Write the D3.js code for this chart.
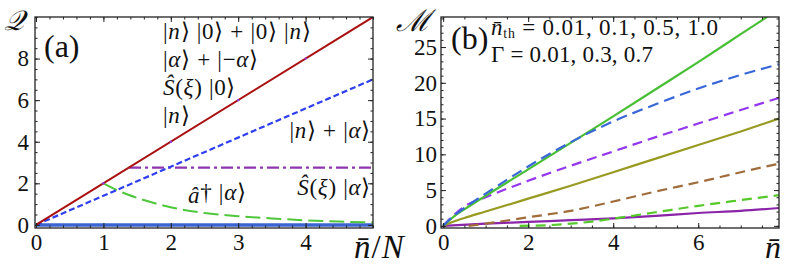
<!DOCTYPE html>
<html>
<head>
<meta charset="utf-8">
<script src="https://cdn.jsdelivr.net/npm/d3@7"></script>
<style>
  body { margin: 0; background: #fff; }
  svg { display: block; }
</style>
</head>
<body>
<svg width="789" height="265"></svg>
<script>
// ---- panel (a) data: Q vs nbar/N ----
var aTicksX = [0, 1, 2, 3, 4];
var aTicksY = [0, 2, 4, 6, 8];
var redLine = [[0, 0], [5, 10]];                 // |n>|0> + |0>|n>, |a>+|-a>, S|0>
var blueDash = [[0, 0], [5, 7.0]];               // |n> + |a>
var purpleDashDot = [[1.38, 2.75], [5, 2.75]];   // S(xi)|a>
var greenLong = [[1, 2], [1.25, 1.6], [1.5, 1.3], [1.75, 1.05], [2, 0.85], [2.5, 0.57],
                 [3, 0.42], [3.5, 0.31], [4, 0.22], [4.5, 0.16], [5, 0.11]]; // a^dag|a>
var baseBlue = [[0, 0], [5, 0]];
var fockPoints = [1, 2, 3, 4];

// ---- panel (b) data: M vs nbar ----
var bTicksX = [0, 2, 4, 6];
var bTicksY = [0, 5, 10, 15, 20, 25];
var greenSolid = [[0, 0], [0.25, 1.3], [0.5, 2.3], [1, 4.2], [2, 7.9], [3, 11.6], [4, 15.3],
                  [5, 19.1], [6, 22.9], [7, 26.8], [7.9, 30.3]];
var blueDashB = [[0, 0], [0.25, 1.4], [0.5, 2.5], [1, 4.5], [2, 8.3], [3, 11.7], [4, 14.6],
                 [5, 17.0], [6, 19.2], [7, 21.1], [7.9, 22.6]];
var violetDash = [[0, 0], [0.25, 1.5], [0.5, 2.7], [1, 4.0], [2, 6.3], [3, 8.4], [4, 10.4],
                  [5, 12.4], [6, 14.3], [7, 16.2], [7.9, 17.9]];
var oliveSolid = [[0, 0], [0.25, 0.6], [0.5, 1.1], [1, 2.0], [2, 3.8], [3, 5.6], [4, 7.5],
                  [5, 9.4], [6, 11.3], [7, 13.2], [7.9, 15.0]];
var brownDash = [[0.6, 0], [1, 0.3], [1.5, 0.75], [2, 1.2], [3, 2.1], [4, 3.4], [5, 4.8],
                 [6, 6.1], [7, 7.5], [7.9, 8.7]];
var limeDash = [[1.8, 0], [2.5, 0.1], [3, 0.3], [3.5, 0.6], [4, 1.0], [5, 1.9], [6, 2.8],
                [7, 3.6], [7.9, 4.3]];
var purpleSolid = [[0, 0], [1, 0.3], [2, 0.55], [3, 0.8], [4, 1.05], [5, 1.4], [6, 1.8],
                   [7, 2.1], [7.9, 2.5]];

var SERIF = "Liberation Serif";

var svg = d3.select("svg");
svg.append("rect").attr("width", 789).attr("height", 265).attr("fill", "#fff");

// write text made of [string, kind] pieces: 0 roman, 1 italic, 2 subscript, 3 back to baseline
function mathText(g, x, y, parts, size, anchor, spacing) {
    var t = g.append("text").attr("x", x).attr("y", y)
        .attr("font-family", SERIF).attr("font-size", size).attr("fill", "#111")
        .attr("text-anchor", anchor || "start").attr("letter-spacing", spacing || 0);
    parts.forEach(function (p) {
        var s = t.append("tspan").text(p[0]);
        if (p[1] == 1) s.attr("font-style", "italic");
        if (p[1] == 2) s.attr("font-size", size * 0.6).attr("dy", 3);
        if (p[1] == 3) s.attr("dy", -3);
    });
    return t;
}

function frame(g, x, y, box, xMajor, xMinor, yMajor, yMinor, xPad, yPad) {
    var x0 = box.left, x1 = box.right, y0 = box.top, y1 = box.bottom;
    var ax = [
        [function () { return d3.axisBottom(x); }, "translate(0," + y1 + ")", xMajor, xMinor, true, xPad],
        [function () { return d3.axisTop(x); }, "translate(0," + y0 + ")", xMajor, xMinor, false, xPad],
        [function () { return d3.axisLeft(y); }, "translate(" + x0 + ",0)", yMajor, yMinor, true, yPad],
        [function () { return d3.axisRight(y); }, "translate(" + x1 + ",0)", yMajor, yMinor, false, yPad]
    ];
    ax.forEach(function (a) {
        var minor = g.append("g").attr("transform", a[1])
            .call(a[0]().tickValues(a[3]).tickSizeInner(-2.5).tickSizeOuter(0).tickFormat(""));
        minor.select(".domain").remove();
        minor.selectAll("line").attr("stroke", "#222");
        var major = g.append("g").attr("transform", a[1])
            .call(a[0]().tickValues(a[2]).tickSizeInner(-5).tickSizeOuter(0)
                  .tickPadding(a[5]).tickFormat(a[4] ? d3.format("d") : ""));
        major.attr("font-family", SERIF).attr("font-size", 23);
        major.select(".domain").remove();
        major.selectAll("line").attr("stroke", "#222");
        major.selectAll("text").attr("font-family", SERIF).attr("font-size", 23).attr("fill", "#111");
    });
    g.append("rect").attr("x", x0).attr("y", y0).attr("width", x1 - x0).attr("height", y1 - y0)
        .attr("fill", "none").attr("stroke", "#222").attr("stroke-width", 1.3);
}

function range(a, b, s) { return d3.range(a, b + s / 2, s).map(function (v) { return +v.toFixed(3); }); }

// ================= panel (a) =================
var boxA = {left: 35, right: 373, top: 17, bottom: 228};
var xa = d3.scaleLinear().domain([0, 5]).range([36, 373]);
var ya = d3.scaleLinear().domain([-0.15, 10]).range([228, 17]);
var ga = svg.append("g");
svg.append("clipPath").attr("id", "clipA").append("rect")
    .attr("x", boxA.left).attr("y", boxA.top).attr("width", boxA.right - boxA.left).attr("height", boxA.bottom - boxA.top);
var la = d3.line().x(function (d) { return xa(d[0]); }).y(function (d) { return ya(d[1]); });
var linesA = ga.append("g").attr("clip-path", "url(#clipA)");

linesA.append("path").datum(baseBlue).attr("d", la).attr("fill", "none")
    .attr("stroke", "#3b64d0").attr("stroke-width", 3.5);
linesA.append("path").datum(greenLong).attr("d", la.curve(d3.curveMonotoneX)).attr("fill", "none")
    .attr("stroke", "#4fc73a").attr("stroke-width", 2).attr("stroke-dasharray", "15,6");
la.curve(d3.curveLinear);
linesA.append("path").datum(purpleDashDot).attr("d", la).attr("fill", "none")
    .attr("stroke", "#8e35b0").attr("stroke-width", 2.2).attr("stroke-dasharray", "12,4,3,4");
linesA.append("path").datum(blueDash).attr("d", la).attr("fill", "none")
    .attr("stroke", "#2f3ff0").attr("stroke-width", 2.2).attr("stroke-dasharray", "6,3");
linesA.append("path").datum(redLine).attr("d", la).attr("fill", "none")
    .attr("stroke", "#aa1010").attr("stroke-width", 2);
linesA.selectAll(".fock").data(fockPoints).enter().append("circle")
    .attr("cx", function (d) { return xa(d); }).attr("cy", function (d) { return ya(2 * d); })
    .attr("r", 1.2).attr("fill", "#8a3adf");

frame(ga, xa, ya, boxA, aTicksX, range(0, 5, 0.2), aTicksY, range(0, 10, 0.5), 6, 6);

var L = 23, LS = 0.7;
mathText(ga, 163, 39, [["|", 0], ["n", 1], ["⟩ |0⟩ + |0⟩ |", 0], ["n", 1], ["⟩", 0]], L, "start", LS);
mathText(ga, 163, 67, [["|", 0], ["α", 1], ["⟩ + |−", 0], ["α", 1], ["⟩", 0]], L, "start", LS);
mathText(ga, 163, 95, [["Ŝ", 1], ["(", 0], ["ξ", 1], [") |0⟩", 0]], L, "start", LS);
mathText(ga, 163, 123, [["|", 0], ["n", 1], ["⟩", 0]], L, "start", LS);
mathText(ga, 371, 138, [["|", 0], ["n", 1], ["⟩ + |", 0], ["α", 1], ["⟩", 0]], L, "end", LS);
mathText(ga, 371, 195, [["Ŝ", 1], ["(", 0], ["ξ", 1], [") |", 0], ["α", 1], ["⟩", 0]], L, "end", LS);
mathText(ga, 188, 203, [["â", 1], ["†", 3], [" |", 0], ["α", 1], ["⟩", 0]], L, "start", LS);
mathText(svg, 44, 57, [["(a)", 0]], 32);
svg.append("text").attr("x", 4).attr("y", 30).attr("font-size", 28).attr("font-style", "italic")
    .attr("fill", "#111").attr("font-family", SERIF).text("𝒬");
mathText(svg, 354, 258, [["n\u0304", 1], ["/", 0], ["N", 1]], 33, "start", 1);

// ================= panel (b) =================
var boxB = {left: 441, right: 779, top: 17, bottom: 228};
var xb = d3.scaleLinear().domain([-0.05, 7.9]).range([441, 779]);
var yb = d3.scaleLinear().domain([-0.3, 29.2]).range([228, 17]);
var gb = svg.append("g");
svg.append("clipPath").attr("id", "clipB").append("rect")
    .attr("x", boxB.left).attr("y", boxB.top).attr("width", boxB.right - boxB.left).attr("height", boxB.bottom - boxB.top);
var lb = d3.line().x(function (d) { return xb(d[0]); }).y(function (d) { return yb(d[1]); })
    .curve(d3.curveMonotoneX);
var linesB = gb.append("g").attr("clip-path", "url(#clipB)");

var seriesB = [
    [purpleSolid, "#8a24a8", null],
    [limeDash, "#55c92a", "10,6"],
    [brownDash, "#a06c3a", "10,6"],
    [oliveSolid, "#999a22", null],
    [violetDash, "#9438f0", "10,6"],
    [greenSolid, "#48bf35", null],
    [blueDashB, "#3a68d8", "11,6"]
];
seriesB.forEach(function (s) {
    linesB.append("path").datum(s[0]).attr("d", lb).attr("fill", "none")
        .attr("stroke", s[1]).attr("stroke-width", 2.2)
        .attr("stroke-dasharray", s[2]);
});

frame(gb, xb, yb, boxB, bTicksX, range(0, 7.5, 0.5), bTicksY, range(0, 29, 1), 6, 4);

mathText(svg, 451, 49, [["(b)", 0]], 32);
mathText(svg, 491, 35, [["n\u0304", 1], ["th", 2], [" = 0.01,  0.1,  0.5,  1.0", 3]], 23, "start", 0.8);
mathText(svg, 491, 62, [["Γ = 0.01,  0.3,  0.7", 0]], 23, "start", 0.2);
svg.append("text").attr("x", 396).attr("y", 31).attr("font-size", 30).attr("font-style", "italic")
    .attr("fill", "#111").attr("font-family", SERIF).text("ℳ");
mathText(svg, 765, 258, [["n\u0304", 1]], 32);
</script>
</body>
</html>
